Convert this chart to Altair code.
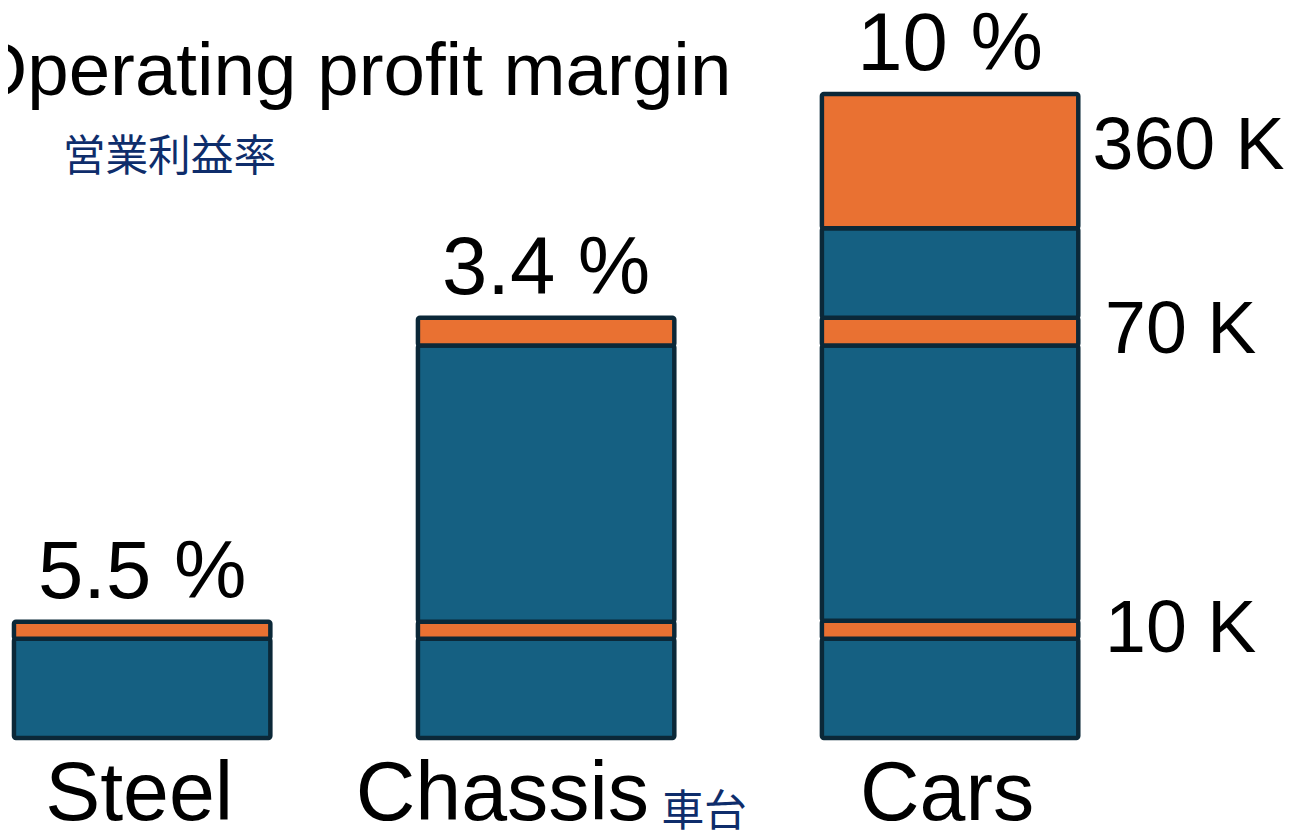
import altair as alt
import pandas as pd

categories = ["Steel", "Chassis", "Cars"]
steel_segments = [100, 17]
chassis_segments = [100, 17, 278, 28]
cars_segments = [100, 18, 277, 28, 90, 135]
margin_labels = ["5.5 %", "3.4 %", "10 %"]
volume_labels = ["10 K", "70 K", "360 K"]
volume_segment_index = [1, 3, 5]
title_text = "Operating profit margin"
title_jp = "営業利益率"
chassis_jp = "車台"

BLUE = "#156082"
ORANGE = "#E97132"
STROKE = "#0b2838"
NAVY = "#0e2d6b"
FONT = "Liberation Sans"
CJK = "Noto Sans CJK JP"

rows = []
totals = []
for cat, segs in zip(categories, [steel_segments, chassis_segments, cars_segments]):
    start = 0
    for i, v in enumerate(segs):
        rows.append(dict(cat=cat, order=i, start=start, end=start + v,
                         mid=start + v / 2, color=BLUE if i % 2 == 0 else ORANGE))
        start += v
    totals.append(start)
seg_df = pd.DataFrame(rows)

top_df = pd.DataFrame({"cat": categories, "total": totals, "label": margin_labels})
cars_rows = seg_df[seg_df["cat"] == "Cars"].reset_index(drop=True)
vol_df = pd.DataFrame({
    "cat": ["Cars"] * len(volume_labels),
    "mid": [cars_rows.loc[i, "mid"] for i in volume_segment_index],
    "label": volume_labels,
})
cat_df = pd.DataFrame({"cat": categories, "base": [0] * 3})
jp_df = pd.DataFrame({"cat": ["Chassis"], "base": [0], "label": [chassis_jp]})

xenc = alt.X("cat:N", sort=categories,
             scale=alt.Scale(domain=categories, range=[-68.25, 1151.25],
                             paddingInner=0, paddingOuter=0, round=False),
             axis=None)
yscale = alt.Scale(domain=[0, 732], nice=False, zero=True)

bars = alt.Chart(seg_df).mark_bar(width=258, stroke=STROKE, strokeWidth=4.5,
                                  cornerRadius=2).encode(
    x=xenc,
    y=alt.Y("start:Q", scale=yscale, axis=None),
    y2="end:Q",
    color=alt.Color("color:N", scale=None),
    order="order:Q",
)

tops = alt.Chart(top_df).mark_text(font=FONT, fontSize=82, baseline="alphabetic",
                                   align="center", dy=-24, color="black").encode(
    x=xenc, y=alt.Y("total:Q", scale=yscale, axis=None), text="label:N")

vol_base = alt.Chart(vol_df).encode(
    x=xenc, y=alt.Y("mid:Q", scale=yscale, axis=None), text="label:N")
vols_low = vol_base.mark_text(font=FONT, fontSize=74, baseline="middle",
                              align="center", dx=232, color="black").transform_filter(
    alt.datum.label != "360 K")
vols_top = vol_base.mark_text(font=FONT, fontSize=74, baseline="middle",
                              align="center", dx=240, dy=-14, color="black").transform_filter(
    alt.datum.label == "360 K")

cat_base = alt.Chart(cat_df).encode(
    x=xenc, y=alt.Y("base:Q", scale=yscale, axis=None), text="cat:N")
cats = cat_base.mark_text(font=FONT, fontSize=83, baseline="alphabetic",
                          align="center", dx=-3, dy=82, color="black").transform_filter(
    alt.datum.cat != "Chassis")
cat_chassis = cat_base.mark_text(font=FONT, fontSize=83, baseline="alphabetic",
                                 align="center", dx=-44, dy=82, color="black").transform_filter(
    alt.datum.cat == "Chassis")

jp = alt.Chart(jp_df).mark_text(font=CJK, fontSize=43, baseline="alphabetic",
                                align="left", dx=116, dy=89, color=NAVY).encode(
    x=xenc, y=alt.Y("base:Q", scale=yscale, axis=None), text="label:N")

title = alt.Chart(pd.DataFrame({"t": [title_text]})).mark_text(
    font=FONT, fontSize=75, baseline="alphabetic", align="left", color="black").encode(
    x=alt.value(-39), y=alt.value(85), text="t:N")

subtitle = alt.Chart(pd.DataFrame({"t": [title_jp]})).mark_text(
    font=CJK, fontSize=43, baseline="alphabetic", align="left", color=NAVY).encode(
    x=alt.value(55), y=alt.value(161), text="t:N")

chart = alt.layer(bars, tops, vols_low, vols_top, cats, cat_chassis, jp,
                  title, subtitle).properties(
    width=1284, height=732,
    padding={"left": 0, "top": 0, "right": 0, "bottom": 97},
    autosize="none",
    background="white",
).configure_view(stroke=None)

chart.save("out.html", embed_options={"renderer": "svg", "actions": False})
